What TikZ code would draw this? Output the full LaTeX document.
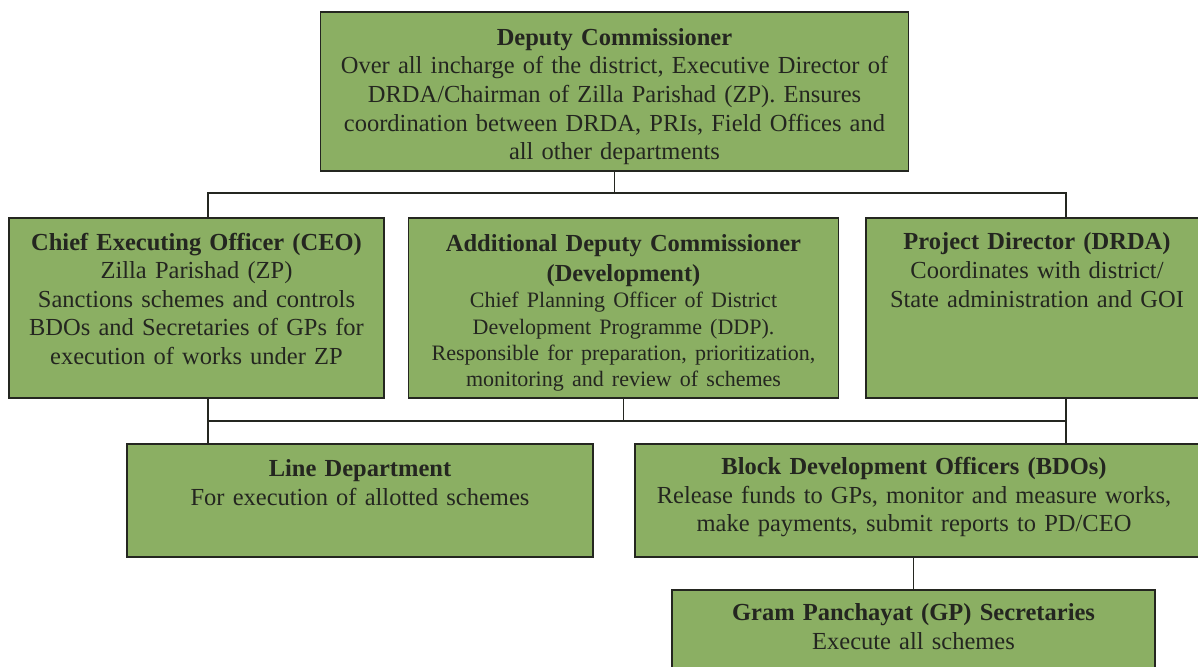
\documentclass[tikz,border=0pt]{standalone}
\usepackage{fontspec}
\setmainfont{Liberation Serif}
\usepackage{tikz}
\definecolor{boxGreen}{RGB}{139,175,99}
\definecolor{inkDark}{RGB}{36,38,32}
\tikzset{
  officeBox/.style = {draw=inkDark, line width=1.6pt, fill=boxGreen, rectangle, inner sep=0pt},
  boxText/.style = {anchor=north, align=center, text=inkDark, inner sep=0pt,
                    font=\fontsize{24.5}{28.6}\selectfont},
  link/.style = {draw=inkDark, line width=1.4pt}
}
\newcommand{\smallBody}{\fontsize{22}{26.4}\selectfont}

\begin{document}
\begin{tikzpicture}[x=1pt, y=-1pt]
    \useasboundingbox (0,0) rectangle (1198,666);
    \clip (0,0) rectangle (1198,666);
    \fill[white] (0,0) rectangle (1198,666);

    % boxes
    \node[officeBox, minimum width=588pt, minimum height=159pt,
          label={[boxText, yshift=-17pt, text width=580pt]north:{\textbf{Deputy Commissioner}\\Over all incharge of the district, Executive Director of\\DRDA/Chairman of Zilla Parishad (ZP). Ensures\\coordination between DRDA, PRIs, Field Offices and\\all other departments}}]
          (dc) at (614.5,91.5) {};
    \node[officeBox, minimum width=375pt, minimum height=180pt,
          label={[boxText, yshift=-15.5pt, text width=370pt]north:{\textbf{Chief Executing Officer (CEO)}\\Zilla Parishad (ZP)\\Sanctions schemes and controls\\BDOs and Secretaries of GPs for\\execution of works under ZP}}]
          (ceo) at (196.5,308) {};
    \node[officeBox, minimum width=430pt, minimum height=180pt,
          label={[boxText, yshift=-17pt, text width=425pt, font=\fontsize{24.5}{26.4}\selectfont]north:{\textbf{Additional Deputy Commissioner}\\[3.5pt]\textbf{(Development)}\\{\smallBody Chief Planning Officer of District\\Development Programme (DDP).\\Responsible for preparation, prioritization,\\monitoring and review of schemes}}}]
          (adc) at (623.5,308) {};
    \node[officeBox, minimum width=350pt, minimum height=180pt,
          label={[boxText, yshift=-15.5pt, xshift=-4pt, text width=330pt]north:{\textbf{Project Director (DRDA)}\\Coordinates with district/\\State administration and GOI}}]
          (pd) at (1041,308) {};
    \node[officeBox, minimum width=466pt, minimum height=113pt,
          label={[boxText, yshift=-16pt, text width=460pt]north:{\textbf{Line Department}\\For execution of allotted schemes}}]
          (line) at (360,500.5) {};
    \node[officeBox, minimum width=580pt, minimum height=113pt,
          label={[boxText, yshift=-14pt, xshift=-11pt, text width=560pt]north:{\textbf{Block Development Officers (BDOs)}\\Release funds to GPs, monitor and measure works,\\make payments, submit reports to PD/CEO}}]
          (bdo) at (925,500.5) {};
    \node[officeBox, minimum width=483pt, minimum height=100pt,
          label={[boxText, yshift=-14pt, text width=475pt]north:{\textbf{Gram Panchayat (GP) Secretaries}\\Execute all schemes}}]
          (gp) at (913.5,640) {};

    % buses and rails
    \coordinate (upperBus) at (0,193);
    \coordinate (lowerBus) at (0,421);
    \coordinate (leftRail) at (208,0);
    \coordinate (rightRail) at (1066,0);

    \draw[link] (dc.south) -- (dc.south |- upperBus);
    \draw[link] (ceo.north -| leftRail) |- (upperBus -| rightRail) -- (pd.north -| rightRail);
    \draw[link] (ceo.south -| leftRail) -- (line.north -| leftRail);
    \draw[link] (lowerBus -| leftRail) -- (lowerBus -| rightRail);
    \draw[link] (adc.south) -- (adc.south |- lowerBus);
    \draw[link] (pd.south -| rightRail) -- (bdo.north -| rightRail);
    \draw[link] (gp.north |- bdo.south) -- (gp.north);
\end{tikzpicture}
\end{document}
